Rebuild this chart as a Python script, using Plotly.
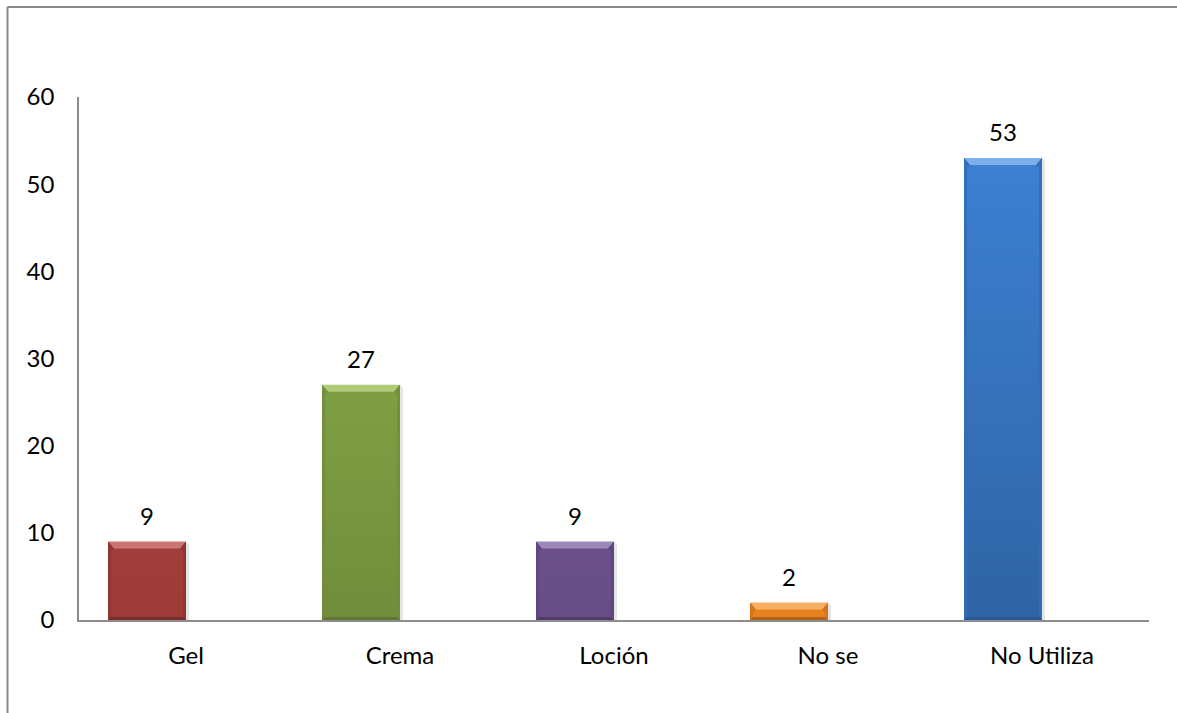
import plotly.graph_objects as go

# Survey answers: type of product used
categorias = ["Gel", "Crema", "Loción", "No se", "No Utiliza"]
valores = [9, 27, 9, 2, 53]
y_ticks = [0, 10, 20, 30, 40, 50, 60]

# base / highlight / side / bottom shades per bar
colores = ["#A23D3B", "#7F9F43", "#6B508B", "#E9821F", "#3C80D2"]
claros = ["#CC7673", "#B0CA78", "#9C89BA", "#F8B064", "#7DB0EA"]
lados = ["#8F3533", "#718D3A", "#5D467B", "#D17219", "#336DB6"]
oscuros = ["#7A2C2A", "#5F7731", "#503B69", "#B3621A", "#285895"]

W, H = 1177, 713
ML, MR, MT, MB = 79, 28, 97, 93
plot_w = W - ML - MR
plot_h = H - MT - MB
px_x = plot_w / len(categorias)          # pixels per category unit
px_y = plot_h / (y_ticks[-1] - y_ticks[0])  # pixels per value unit

bar_w = 0.3645
xs = list(range(len(categorias)))
centros = [x - bar_w / 2 for x in xs]

FONT = "Lato"
FSIZE = 24
fig = go.Figure()
fig.add_trace(go.Bar(
    x=xs, y=valores, width=bar_w, offset=-bar_w,
    marker=dict(color=colores, line=dict(width=0)),
    hoverinfo="x+y", showlegend=False,
))

# darkening gradient towards the base of each bar (stronger on taller bars)
vmax = max(valores)
for x, v in zip(xs, valores):
    a = 0.22 * v / vmax
    fig.add_trace(go.Scatter(
        x=[x - bar_w, x, x, x - bar_w, x - bar_w], y=[0, 0, v, v, 0],
        mode="lines", line=dict(width=0), fill="toself",
        fillgradient=dict(type="vertical",
                          colorscale=[[0, f"rgba(0,0,0,{a:.3f})"], [1, "rgba(0,0,0,0)"]]),
        hoverinfo="skip", showlegend=False,
    ))

shapes = []
half = bar_w * px_x / 2
tx, ty = 6, 7      # top bevel corner inset
sx, sb = 3, 3      # side / bottom bevel thickness
for c, v, cl, ld, osc in zip(centros, valores, claros, lados, oscuros):
    h = v * px_y
    common = dict(type="path", xref="x", yref="y", xsizemode="pixel",
                  ysizemode="pixel", xanchor=c, yanchor=0, line=dict(width=0))
    # soft drop shadow
    shapes.append(dict(common, path=f"M {half},0 L {half+3},-2 L {half+3},{h-3} L {half},{h} Z",
                       fillcolor="rgba(0,0,0,0.10)", layer="below"))
    # bevel faces
    shapes.append(dict(common, path=f"M {-half},{h} L {half},{h} L {half-tx},{h-ty} L {-half+tx},{h-ty} Z",
                       fillcolor=cl))
    shapes.append(dict(common, path=(f"M {-half},0 L {-half},{h} L {-half+tx},{h-ty} "
                                     f"L {-half+sx},{h-ty-3} L {-half+sx},{sb} Z"),
                       fillcolor=ld, opacity=0.85))
    shapes.append(dict(common, path=(f"M {half},0 L {half},{h} L {half-tx},{h-ty} "
                                     f"L {half-sx},{h-ty-3} L {half-sx},{sb} Z"),
                       fillcolor=ld, opacity=0.85))
    shapes.append(dict(common, path=f"M {-half},0 L {half},0 L {half-sx},{sb} L {-half+sx},{sb} Z",
                       fillcolor=osc))

# outer frame (left and top edges)
fx = (7.5 - ML) / plot_w
fy_top = 1 + (MT - 7) / plot_h
fy_bot = -MB / plot_h
border = dict(color="#898989", width=2)
shapes.append(dict(type="line", xref="paper", yref="paper", x0=fx, x1=fx,
                   y0=fy_bot, y1=fy_top, line=border))
shapes.append(dict(type="line", xref="paper", yref="paper", x0=fx, x1=(W - ML) / plot_w,
                   y0=fy_top, y1=fy_top, line=border))

annotations = [
    dict(x=c, y=v, xref="x", yref="y", text=str(v), showarrow=False,
         yanchor="bottom", yshift=10, font=dict(family=FONT, size=FSIZE, color="#000"))
    for c, v in zip(centros, valores)
]

fig.update_layout(
    width=W, height=H,
    margin=dict(l=ML, r=MR, t=MT, b=MB),
    paper_bgcolor="white", plot_bgcolor="white",
    bargap=0,
    shapes=shapes,
    annotations=annotations,
    font=dict(family=FONT, size=FSIZE, color="#000"),
    xaxis=dict(
        range=[-0.5, len(categorias) - 0.5], tickvals=xs, ticktext=categorias,
        showgrid=False, zeroline=False, showline=True, linecolor="#8C8C8C",
        linewidth=1.5, ticks="", ticklabelstandoff=13, fixedrange=True,
    ),
    yaxis=dict(
        range=[y_ticks[0], y_ticks[-1]], tickvals=y_ticks, showgrid=False,
        zeroline=False, showline=True, linecolor="#8C8C8C", linewidth=1.5,
        ticks="", ticklabelstandoff=18, fixedrange=True,
    ),
)

fig.write_html("out.html")
